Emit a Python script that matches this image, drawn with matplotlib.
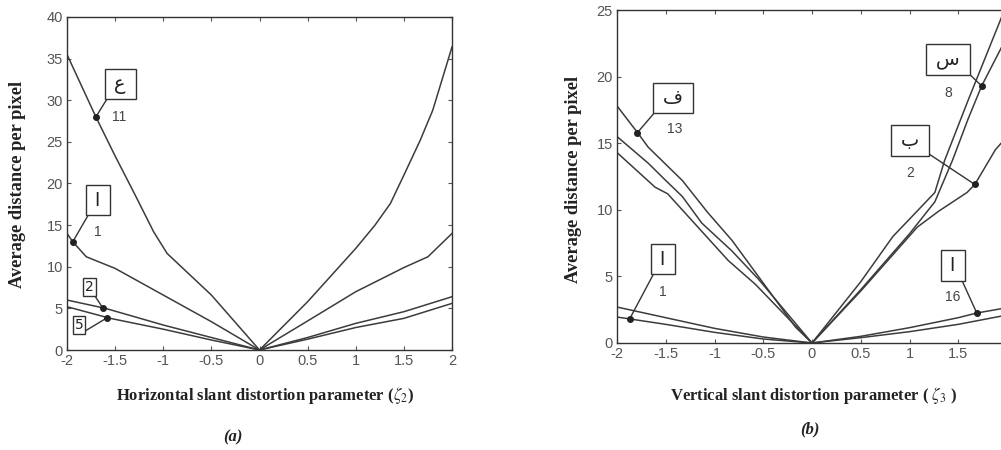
import numpy as np
import matplotlib.pyplot as plt

plt.rcParams['font.family'] = ['Liberation Sans', 'DejaVu Sans']
plt.rcParams['axes.unicode_minus'] = False
plt.rcParams['mathtext.fontset'] = 'stix'

# ---- panel (a): horizontal slant ----
a_x11 = [-2, -1.7, -1.5, -1.3, -1.1, -0.96, -0.5, -0.25, 0, 0.5, 1.0, 1.2, 1.36, 1.5, 1.67, 1.8, 2.0]
a_y11 = [35.5, 28, 23.3, 18.8, 14.2, 11.6, 6.6, 3.3, 0, 5.8, 12.2, 15, 17.6, 21, 25.2, 28.8, 36.4]
a_x1 = [-2, -1.94, -1.8, -1.5, -1.0, -0.5, 0, 0.63, 1.0, 1.5, 1.75, 2.0]
a_y1 = [14, 13, 11.2, 9.8, 6.6, 3.4, 0, 4.4, 7.0, 9.9, 11.2, 14]
a_x2 = [-2, -1.6, -1.0, -0.5, 0, 0.5, 1.0, 1.5, 2.0]
a_y2 = [6, 5, 3.0, 1.5, 0, 1.5, 3.2, 4.6, 6.4]
a_x5 = [-2, -1.55, -1.0, -0.5, 0, 0.5, 1.0, 1.5, 2.0]
a_y5 = [5.2, 3.8, 2.5, 1.2, 0, 1.3, 2.7, 3.8, 5.6]

# ---- panel (b): vertical slant ----
b_x13 = [-2, -1.79, -1.68, -1.33, -1.07, -0.82, -0.58, -0.17, 0, 0.5, 0.83, 1.0, 1.26, 1.36, 1.6, 1.93, 2.0]
b_y13 = [17.8, 15.8, 14.7, 12.2, 9.8, 7.7, 5.3, 1.2, 0, 4.6, 8.0, 9.3, 11.3, 13.7, 18.2, 24.2, 25.5]
b_x8 = [-2, -1.68, -1.5, -1.33, -1.13, -0.82, -0.55, 0, 0.5, 1.0, 1.26, 1.44, 1.6, 1.74, 1.93, 2.0]
b_y8 = [15.5, 13.5, 12.2, 11.0, 9.0, 6.9, 4.8, 0, 4.0, 8.2, 10.6, 13.7, 16.8, 19.3, 22.0, 23.0]
b_x2 = [-2, -1.61, -1.48, -1.17, -0.86, -0.58, 0, 0.5, 1.08, 1.3, 1.59, 1.67, 1.88, 2.0]
b_y2 = [14.3, 11.7, 11.2, 8.7, 6.2, 4.4, 0, 3.9, 8.7, 9.9, 11.3, 11.9, 14.5, 15.5]
b_x16 = [-2, -1.5, -1, -0.5, 0, 0.5, 1, 1.5, 1.69, 2]
b_y16 = [2.7, 1.9, 1.1, 0.45, 0, 0.5, 1.15, 1.9, 2.25, 2.65]
b_x1 = [-2, -1.5, -1, -0.5, 0, 0.5, 1, 1.5, 2]
b_y1 = [1.95, 1.4, 0.8, 0.3, 0, 0.4, 0.85, 1.4, 2.1]

xticks = [-2, -1.5, -1, -0.5, 0, 0.5, 1, 1.5, 2]
xtick_labels = ['-2', '-1.5', '-1', '-0.5', '0', '0.5', '1', '1.5', '2']

line_c = '#3c3c3c'
edge_c = '#333333'
TS = '\u2009'  # thin space to widen letter boxes


def style(ax, ymax):
    ax.set_xlim(-2, 2)
    ax.set_ylim(0, ymax)
    ax.set_xticks(xticks)
    ax.set_xticklabels(xtick_labels)
    ax.set_yticks(np.arange(0, ymax + 1, 5))
    ax.tick_params(direction='in', top=True, right=True, length=3,
                   labelsize=10.5, labelcolor='#555555', color='#555555', pad=3)
    for s in ax.spines.values():
        s.set_color(edge_c)
        s.set_linewidth(1.0)


def tag(ax, txt, num, box, numpos, dx, xs, ys, rel, fs=14, pad=0.3):
    dy = np.interp(dx, xs, ys)
    ax.plot(dx, dy, 'o', ms=4, color='#222222', zorder=5)
    ax.annotate(txt, xy=(dx, dy), xytext=box, ha='center', va='center',
                fontsize=fs, family=['DejaVu Sans'], color='#222222',
                bbox=dict(boxstyle='square,pad=%s' % pad, fc='white', ec=edge_c, lw=1),
                arrowprops=dict(arrowstyle='-', color=edge_c, lw=1, relpos=rel,
                                shrinkA=0, shrinkB=0))
    if num:
        ax.text(numpos[0], numpos[1], num, ha='center', va='center',
                fontsize=10, color='#444444')


fig = plt.figure(figsize=(10.01, 4.5), dpi=100)

axa = fig.add_axes([67 / 1001, 100 / 450, 385 / 1001, 333 / 450])
for xs, ys in [(a_x11, a_y11), (a_x1, a_y1), (a_x2, a_y2), (a_x5, a_y5)]:
    axa.plot(xs, ys, color=line_c, lw=1.1)
style(axa, 40)
tag(axa, TS + 'ع' + TS, '11', (-1.449, 31.95), (-1.46, 28.0), -1.7, a_x11, a_y11, (0, 0))
tag(axa, TS + 'ا' + TS, '1', (-1.678, 18.0), (-1.678, 14.2), -1.94, a_x1, a_y1, (0, 0))
tag(axa, '2', None, (-1.77, 7.6), None, -1.63, a_x2, a_y2, (1, 0), fs=10, pad=0.15)
tag(axa, '5', None, (-1.875, 3.0), None, -1.58, a_x5, a_y5, (1, 0), fs=10, pad=0.15)

axb = fig.add_axes([617 / 1001, 107 / 450, 390 / 1001, 333 / 450])
for xs, ys in [(b_x13, b_y13), (b_x8, b_y8), (b_x2, b_y2), (b_x16, b_y16), (b_x1, b_y1)]:
    axb.plot(xs, ys, color=line_c, lw=1.1)
style(axb, 25)
tag(axb, TS + 'ف' + TS, '13', (-1.426, 18.4), (-1.405, 16.1), -1.79, b_x13, b_y13, (0, 0))
tag(axb, TS + 'ا' + TS, '1', (-1.528, 6.3), (-1.528, 3.8), -1.87, b_x1, b_y1, (0, 0))
tag(axb, TS + 'س' + TS, '8', (1.395, 21.3), (1.395, 18.8), 1.74, b_x8, b_y8, (1, 0))
tag(axb, TS + 'ب' + TS, '2', (1.005, 15.2), (1.005, 12.8), 1.67, b_x2, b_y2, (1, 0))
tag(axb, TS + 'ا' + TS, '16', (1.446, 5.8), (1.446, 3.45), 1.69, b_x16, b_y16, (1, 0))

serif = ['Liberation Serif', 'DejaVu Serif']
fig.text(265 / 1001, 1 - 396 / 450, r'Horizontal slant distortion parameter ($\zeta_2$)',
         ha='center', va='center', fontsize=12, weight='bold', family=serif, color='#222222')
fig.text(813 / 1001, 1 - 396 / 450, r'Vertical slant distortion parameter ( $\zeta_3$ )',
         ha='center', va='center', fontsize=12, weight='bold', family=serif, color='#222222')
fig.text(18 / 1001, 1 - 184 / 450, 'Average distance per pixel', rotation=90,
         ha='center', va='center', fontsize=13.2, weight='bold', family=serif, color='#222222')
fig.text(573 / 1001, 1 - 179 / 450, 'Average distance per pixel', rotation=90,
         ha='center', va='center', fontsize=13.2, weight='bold', family=serif, color='#222222')
fig.text(233 / 1001, 1 - 437 / 450, '(a)', ha='center', va='center', fontsize=12,
         weight='bold', style='italic', family=serif, color='#222222')
fig.text(810 / 1001, 1 - 429 / 450, '(b)', ha='center', va='center', fontsize=12,
         weight='bold', style='italic', family=serif, color='#222222')

fig.savefig('out.png', dpi=100)
